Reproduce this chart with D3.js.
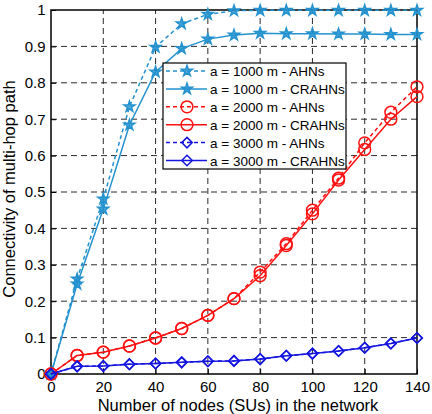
<!DOCTYPE html>
<html>
<head>
<meta charset="utf-8">
<script src="https://cdn.jsdelivr.net/npm/d3@7"></script>
<style>
  html, body { margin: 0; padding: 0; background: #fff; }
  svg { display: block; font-family: "Liberation Sans", Arial, sans-serif; }
</style>
</head>
<body>
<div id="chart"></div>
<script>
// data
const nodes = [0, 10, 20, 30, 40, 50, 60, 70, 80, 90, 100, 110, 120, 130, 140];
const ahn1000 = [0, 0.261, 0.481, 0.734, 0.898, 0.962, 0.988, 0.998, 0.999, 0.999, 0.999, 0.999, 0.999, 0.999, 0.999];
const crahn1000 = [0, 0.247, 0.453, 0.684, 0.830, 0.894, 0.920, 0.931, 0.936, 0.935, 0.935, 0.934, 0.934, 0.933, 0.933];
const ahn2000 = [0, 0.051, 0.060, 0.077, 0.099, 0.125, 0.161, 0.207, 0.280, 0.358, 0.450, 0.538, 0.635, 0.719, 0.789];
const crahn2000 = [0, 0.051, 0.060, 0.077, 0.099, 0.125, 0.161, 0.207, 0.270, 0.353, 0.440, 0.533, 0.617, 0.700, 0.762];
const ahn3000 = [0, 0.021, 0.022, 0.027, 0.029, 0.032, 0.035, 0.036, 0.041, 0.050, 0.056, 0.063, 0.072, 0.084, 0.099];
const crahn3000 = [0, 0.021, 0.022, 0.027, 0.029, 0.032, 0.035, 0.036, 0.041, 0.050, 0.056, 0.063, 0.072, 0.084, 0.099];
const xTicks = [0, 20, 40, 60, 80, 100, 120, 140];
const yTicks = [0, 0.1, 0.2, 0.3, 0.4, 0.5, 0.6, 0.7, 0.8, 0.9, 1];

const series = [
  { name: "a = 1000 m - AHNs", values: ahn1000, color: "#2392cf", dashed: true, marker: "star" },
  { name: "a = 1000 m - CRAHNs", values: crahn1000, color: "#2392cf", dashed: false, marker: "star" },
  { name: "a = 2000 m - AHNs", values: ahn2000, color: "#ff1010", dashed: true, marker: "circle" },
  { name: "a = 2000 m - CRAHNs", values: crahn2000, color: "#ff1010", dashed: false, marker: "circle" },
  { name: "a = 3000 m - AHNs", values: ahn3000, color: "#1515e0", dashed: true, marker: "diamond" },
  { name: "a = 3000 m - CRAHNs", values: crahn3000, color: "#1515e0", dashed: false, marker: "diamond" }
];

const width = 432, height = 414;
const margin = { top: 10, right: 15, bottom: 40, left: 51 };
const tickFont = 15, labelFont = 16.5, legendFont = 13.5;

const svg = d3.select("#chart").append("svg")
    .attr("width", width)
    .attr("height", height);

const x = d3.scaleLinear().domain([0, 140]).range([margin.left, width - margin.right]);
const y = d3.scaleLinear().domain([0, 1]).range([height - margin.bottom, margin.top]);

// grid
const grid = svg.append("g")
    .attr("stroke", "#2a2a2a")
    .attr("stroke-width", 1)
    .attr("stroke-dasharray", "6,4");
grid.selectAll(".gx")
  .data(xTicks.slice(1, -1))
  .join("line")
    .attr("x1", d => x(d)).attr("x2", d => x(d))
    .attr("y1", y(0)).attr("y2", y(1));
grid.selectAll(".gy")
  .data(yTicks.slice(1, -1))
  .join("line")
    .attr("y1", d => y(d)).attr("y2", d => y(d))
    .attr("x1", x(0)).attr("x2", x(140));

// axes
svg.append("g")
    .attr("transform", `translate(0,${y(0)})`)
    .call(d3.axisBottom(x).tickValues(xTicks).tickSize(-5).tickPadding(7).tickFormat(d3.format("d")))
    .call(g => g.select(".domain").remove())
    .call(g => g.selectAll("text").attr("font-size", tickFont).attr("fill", "#000").attr("font-family", "Liberation Sans, Arial, sans-serif"));

svg.append("g")
    .attr("transform", `translate(${x(0)},0)`)
    .call(d3.axisLeft(y).tickValues(yTicks).tickSize(-5).tickPadding(5.5).tickFormat(d => d === 0 || d === 1 ? String(d) : d.toFixed(1)))
    .call(g => g.select(".domain").remove())
    .call(g => g.selectAll("text").attr("font-size", tickFont).attr("fill", "#000").attr("font-family", "Liberation Sans, Arial, sans-serif"));

// frame
svg.append("rect")
    .attr("x", x(0)).attr("y", y(1))
    .attr("width", x(140) - x(0)).attr("height", y(0) - y(1))
    .attr("fill", "none").attr("stroke", "#000").attr("stroke-width", 1.5);

// labels
svg.append("text")
    .attr("x", (x(0) + x(140)) / 2 + 4)
    .attr("y", height - 3)
    .attr("text-anchor", "middle")
    .attr("font-size", labelFont)
    .text("Number of nodes (SUs) in the network");

svg.append("text")
    .attr("transform", `translate(15,${(y(0) + y(1)) / 2 - 3}) rotate(-90)`)
    .attr("text-anchor", "middle")
    .attr("font-size", labelFont)
    .text("Connectivity of multi-hop path");

// markers: star, circle, square-ish diamond
const diamond = { draw(ctx, size) { const r = Math.sqrt(size) / 2; ctx.moveTo(0, -r); ctx.lineTo(r, 0); ctx.lineTo(0, r); ctx.lineTo(-r, 0); ctx.closePath(); } };
const symbols = {
  star: d3.symbol().type(d3.symbolStar).size(36),
  circle: d3.symbol().type(d3.symbolCircle).size(110),
  diamond: d3.symbol().type(diamond).size(110)
};

const line = d3.line().x((d, i) => x(nodes[i])).y(d => y(d));

function drawMarker(g, s, px, py) {
  g.append("path")
    .attr("d", symbols[s.marker]())
    .attr("transform", `translate(${px},${py})`)
    .attr("fill", s.marker === "star" ? s.color : "none")
    .attr("fill-opacity", 0.8)
    .attr("stroke", s.color)
    .attr("stroke-width", 1.5);
}

const plot = svg.append("g");
series.forEach(s => {
  const g = plot.append("g");
  g.append("path")
    .datum(s.values)
    .attr("d", line)
    .attr("fill", "none")
    .attr("stroke", s.color)
    .attr("stroke-width", 1.5)
    .attr("stroke-dasharray", s.dashed ? "4,3" : null);
  s.values.forEach((v, i) => drawMarker(g, s, x(nodes[i]), y(v)));
});

// legend
const lg = svg.append("g").attr("transform", "translate(163,63)");
lg.append("rect")
    .attr("width", 183).attr("height", 106)
    .attr("fill", "#fff").attr("stroke", "#000").attr("stroke-width", 1.2);
series.forEach((s, i) => {
  const cy = 8 + i * 17.9;
  lg.append("line")
    .attr("x1", 3).attr("x2", 44)
    .attr("y1", cy).attr("y2", cy)
    .attr("stroke", s.color).attr("stroke-width", 1.5)
    .attr("stroke-dasharray", s.dashed ? "4,3" : null);
  drawMarker(lg, s, 24, cy);
  lg.append("text")
    .attr("x", 47).attr("y", cy + 5)
    .attr("font-size", legendFont)
    .text(s.name);
});
</script>
</body>
</html>
